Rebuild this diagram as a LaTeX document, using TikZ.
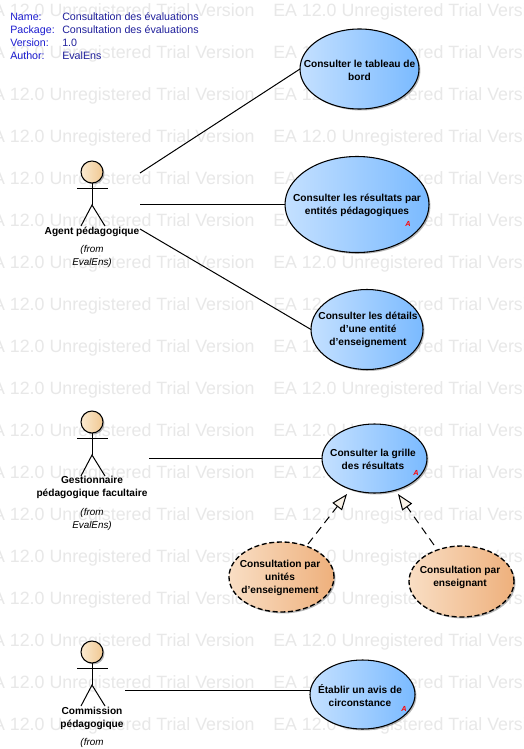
\documentclass[tikz,border=0pt]{standalone}
\usepackage{fontspec}
\setmainfont{Liberation Sans}
\usetikzlibrary{arrows.meta,shapes.geometric,shadows}
\definecolor{wmgray}{HTML}{E8E8E8}
\definecolor{hdlabel}{HTML}{1C1CD0}
\definecolor{hdvalue}{HTML}{20209C}
\tikzset{
  px/.style={x=0.75pt,y=-0.75pt},
  softshadow/.style={general shadow={shadow xshift=1.1pt,shadow yshift=-1.1pt,fill=black,opacity=.28}},
  usecase/.style 2 args={ellipse,draw=black,line width=0.8pt,inner sep=0pt,outer sep=0pt,
    minimum width=#1*0.75pt,minimum height=#2*0.75pt,softshadow},
  casetext/.style={font=\fontsize{7.6}{9.75}\selectfont\bfseries,align=center,inner sep=0pt},
  bluecase/.style={left color={rgb,255:red,196;green,224;blue,255},right color={rgb,255:red,122;green,186;blue,255}},
  orangecase/.style={line width=1pt,dash pattern=on 3.75pt off 2pt,left color={rgb,255:red,249;green,222;blue,196},right color={rgb,255:red,238;green,176;blue,124}},
  watermark/.style={text=wmgray,font=\fontsize{13.35}{15}\selectfont,anchor=base west,inner sep=0pt},
  hdtext/.style={font=\fontsize{8}{9.75}\selectfont,anchor=base west,inner sep=0pt},
  actorlabel/.style={font=\fontsize{7.6}{9.75}\selectfont\bfseries,align=center,inner sep=0pt},
  fromlabel/.style={font=\fontsize{7.4}{9.75}\selectfont\itshape,align=center,inner sep=0pt},
  abstractmark/.style={text=red,font=\fontsize{5.5}{6}\selectfont\bfseries\itshape,inner sep=0pt},
  assoc/.style={line width=0.75pt,draw=black},
  realize/.style={line width=0.75pt,dash pattern=on 6pt off 4pt,
    -{Triangle[open,length=12pt,width=9pt,fill={rgb,255:red,250;green,243;blue,232}]}},
  stick/.style={line width=0.75pt,draw=black},
  actorhead/.style={circle,draw=black,line width=0.8pt,inner sep=0pt,outer sep=0pt,minimum size=16.5pt,
    left color={rgb,255:red,251;green,234;blue,208},right color={rgb,255:red,240;green,200;blue,146},softshadow}
}
\newcommand{\stickman}[2]{%
  \node[actorhead] (#1head) at (92,#2) {};
  \coordinate (#1neck) at (92,#2+16.5);
  \coordinate (#1armL) at (77,#2+16.5);
  \coordinate (#1armR) at (108,#2+16.5);
  \coordinate (#1hip) at (92,#2+33);
  \coordinate (#1legL) at (81,#2+54);
  \coordinate (#1legR) at (105,#2+54);
  \draw[stick] (#1head.south) -- (#1hip);
  \draw[stick] (#1armL) -- (#1armR);
  \draw[stick] (#1legL) -- (#1hip) -- (#1legR);
}
\begin{document}
\begin{tikzpicture}[px]
\useasboundingbox (0,0) rectangle (524,749);
\clip (0,0) rectangle (524,749);
\fill[white] (0,0) rectangle (524,749);
% watermark
\foreach \r in {0,...,17}{
  \foreach \c in {0,1}{
    \node[watermark] (wm\r x\c) at ({-19+292*\c},{16.5+42*\r}) {EA 12.0 Unregistered Trial Version};
  }
}
% header
\node[hdtext,text=hdlabel] (hn) at (10,21) {Name:};
\node[hdtext,text=hdvalue] (hnv) at (62,21) {Consultation des évaluations};
\node[hdtext,text=hdlabel] (hp) at (10,34) {Package:};
\node[hdtext,text=hdvalue] (hpv) at (62,34) {Consultation des évaluations};
\node[hdtext,text=hdlabel] (hv) at (10,47) {Version:};
\node[hdtext,text=hdvalue] (hvv) at (62,47) {1.0};
\node[hdtext,text=hdlabel] (ha) at (10,60) {Author:};
\node[hdtext,text=hdvalue] (hav) at (62,60) {EvalEns};
% use cases
\node[usecase={119}{80},bluecase] (uc1) at (359.5,69) {};
\node[casetext] (uc1t) at (359.5,70.5) {Consulter le tableau de\\bord};
\node[usecase={144}{96},bluecase] (uc2) at (357,204.5) {};
\node[casetext] (uc2t) at (357,205) {Consulter les résultats par\\entités pédagogiques};
\node[usecase={112}{80},bluecase] (uc3) at (367,329.5) {};
\node[casetext] (uc3t) at (368,329.5) {Consulter les détails\\d'une entité\\d'enseignement};
\node[usecase={105}{69},bluecase] (uc4) at (374.5,458.5) {};
\node[casetext] (uc4t) at (373,459.5) {Consulter la grille\\des résultats};
\node[usecase={105}{70},orangecase] (uc5) at (281.5,577) {};
\node[casetext] (uc5t) at (280,578) {Consultation par\\unités\\d'enseignement};
\node[usecase={105}{71},orangecase] (uc6) at (461.5,581.5) {};
\node[casetext] (uc6t) at (460,577) {Consultation par\\enseignant};
\node[usecase={105}{69},bluecase] (uc7) at (362.5,694.5) {};
\node[casetext] (uc7t) at (360,695.5) {Établir un avis de\\circonstance};
\node[abstractmark] (am2) at (408,223.5) {A};
\node[abstractmark] (am4) at (416,473) {A};
\node[abstractmark] (am7) at (404,708.5) {A};
% actors
\stickman{aa}{172}
\stickman{ab}{422}
\stickman{ac}{652}
\node[actorlabel] (aalabel) at (92,232) {Agent pédagogique};
\node[fromlabel] (aafrom) at (92,256.5) {(from\\EvalEns)};
\node[actorlabel] (ablabel) at (92,487.5) {Gestionnaire\\pédagogique facultaire};
\node[fromlabel] (abfrom) at (92,519.5) {(from\\EvalEns)};
\node[actorlabel] (aclabel) at (92,718.5) {Commission\\pédagogique};
\node[fromlabel] (acfrom) at (92,743) {(from};
% connector ends
\coordinate (e1) at (140,173);
\coordinate (e2) at (140,204.5);
\coordinate (e3) at (140,229);
\coordinate (e4) at (149,458.5);
\coordinate (e7) at (125,690.5);
\coordinate (t5) at (308,544);
\coordinate (h5) at (347,494);
\coordinate (t6) at (434,545);
\coordinate (h6) at (398,494);
\draw[assoc] (e1) -- (uc1.west);
\draw[assoc] (e2) -- (uc2.west);
\draw[assoc] (e3) -- (uc3.west);
\draw[assoc] (e4) -- (uc4.west);
\draw[assoc] (e7) -- (e7 -| uc7.west);
\draw[realize] (t5) -- (h5);
\draw[realize] (t6) -- (h6);
\end{tikzpicture}
\end{document}
